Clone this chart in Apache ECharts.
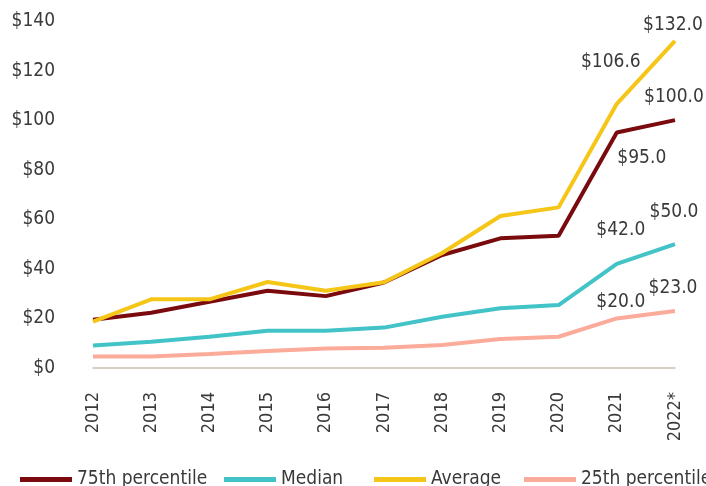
<!DOCTYPE html>
<html>
<head>
<meta charset="utf-8">
<script src="https://cdn.jsdelivr.net/npm/echarts@6/dist/echarts.min.js"></script>
<style>
  html, body { margin: 0; padding: 0; background: #fff; }
  #chart { width: 706px; height: 486px; }
</style>
</head>
<body>
<div id="chart"></div>
<script>
// 年份
var years = ['2012', '2013', '2014', '2015', '2016', '2017', '2018', '2019', '2020', '2021', '2022*'];
// 各系列数值
var p75 = [19.5, 22.3, 26.7, 31.2, 29.0, 34.5, 45.6, 52.3, 53.4, 95.0, 100.0];
var median = [9.1, 10.6, 12.6, 15.0, 15.0, 16.3, 20.7, 24.1, 25.4, 42.0, 50.0];
var average = [18.7, 27.7, 27.7, 34.7, 31.2, 34.6, 46.4, 61.3, 64.8, 106.6, 132.0];
var p25 = [4.6, 4.6, 5.6, 6.9, 7.9, 8.2, 9.3, 11.7, 12.6, 20.0, 23.0];
var yTicks = [0, 20, 40, 60, 80, 100, 120, 140];

var font = '"DejaVu Sans Condensed", "Liberation Sans Narrow", sans-serif';
var textColor = '#3a3a3a';

// 只给最后两个点加标签，offset 为标签中心相对于点的位置
function withLabels(values, offsets) {
  return values.map(function (v, i) {
    var k = i - (values.length - 2);
    if (k < 0) return v;
    return {
      value: v,
      label: {
        show: true,
        position: 'inside',
        offset: offsets[k],
        formatter: '$' + v.toFixed(1),
        fontFamily: font,
        fontSize: 19,
        color: textColor
      }
    };
  });
}

function lineSeries(name, color, values, offsets) {
  return {
    name: name,
    type: 'line',
    data: withLabels(values, offsets),
    symbol: 'circle',
    symbolSize: 0.1,
    showSymbol: true,
    itemStyle: { color: color },
    lineStyle: { color: color, width: 4 },
    emphasis: { disabled: true },
    z: 2
  };
}

var chartDom = document.getElementById('chart');
var myChart = echarts.init(chartDom);

var legendBase = {
  top: 465,
  icon: 'rect',
  itemWidth: 52,
  itemHeight: 5,
  itemGap: 6,
  textStyle: { fontFamily: font, fontSize: 19, color: textColor }
};
function legendAt(name, left) {
  return Object.assign({}, legendBase, { data: [name], left: left });
}

var option = {
  animation: false,
  grid: { left: 93, right: 31, top: 21, bottom: 118 },
  legend: [
    legendAt('75th percentile', 15),
    legendAt('Median', 219),
    legendAt('Average', 369),
    legendAt('25th percentile', 519)
  ],
  xAxis: {
    type: 'category',
    data: years,
    boundaryGap: false,
    axisLine: { lineStyle: { color: '#c9c1b6', width: 1.5 } },
    axisTick: { show: false },
    axisLabel: {
      rotate: 90,
      margin: 24,
      fontFamily: font,
      fontSize: 18,
      color: textColor
    }
  },
  yAxis: {
    type: 'value',
    min: yTicks[0],
    max: yTicks[yTicks.length - 1],
    interval: 20,
    axisLine: { show: false },
    axisTick: { show: false },
    splitLine: { show: false },
    axisLabel: {
      margin: 38,
      fontFamily: font,
      fontSize: 19,
      color: textColor,
      formatter: function (v) { return '$' + v; }
    }
  },
  series: [
    lineSeries('75th percentile', '#7a0a0e', p75, [[25, 26], [-1, -23]]),
    lineSeries('Median', '#41c3c8', median, [[4, -34], [-1, -32]]),
    lineSeries('Average', '#f5c518', average, [[-6, -42], [-2, -16]]),
    lineSeries('25th percentile', '#fbab9a', p25, [[4, -16], [-2, -23]])
  ]
};
option && myChart.setOption(option);
</script>
</body>
</html>
